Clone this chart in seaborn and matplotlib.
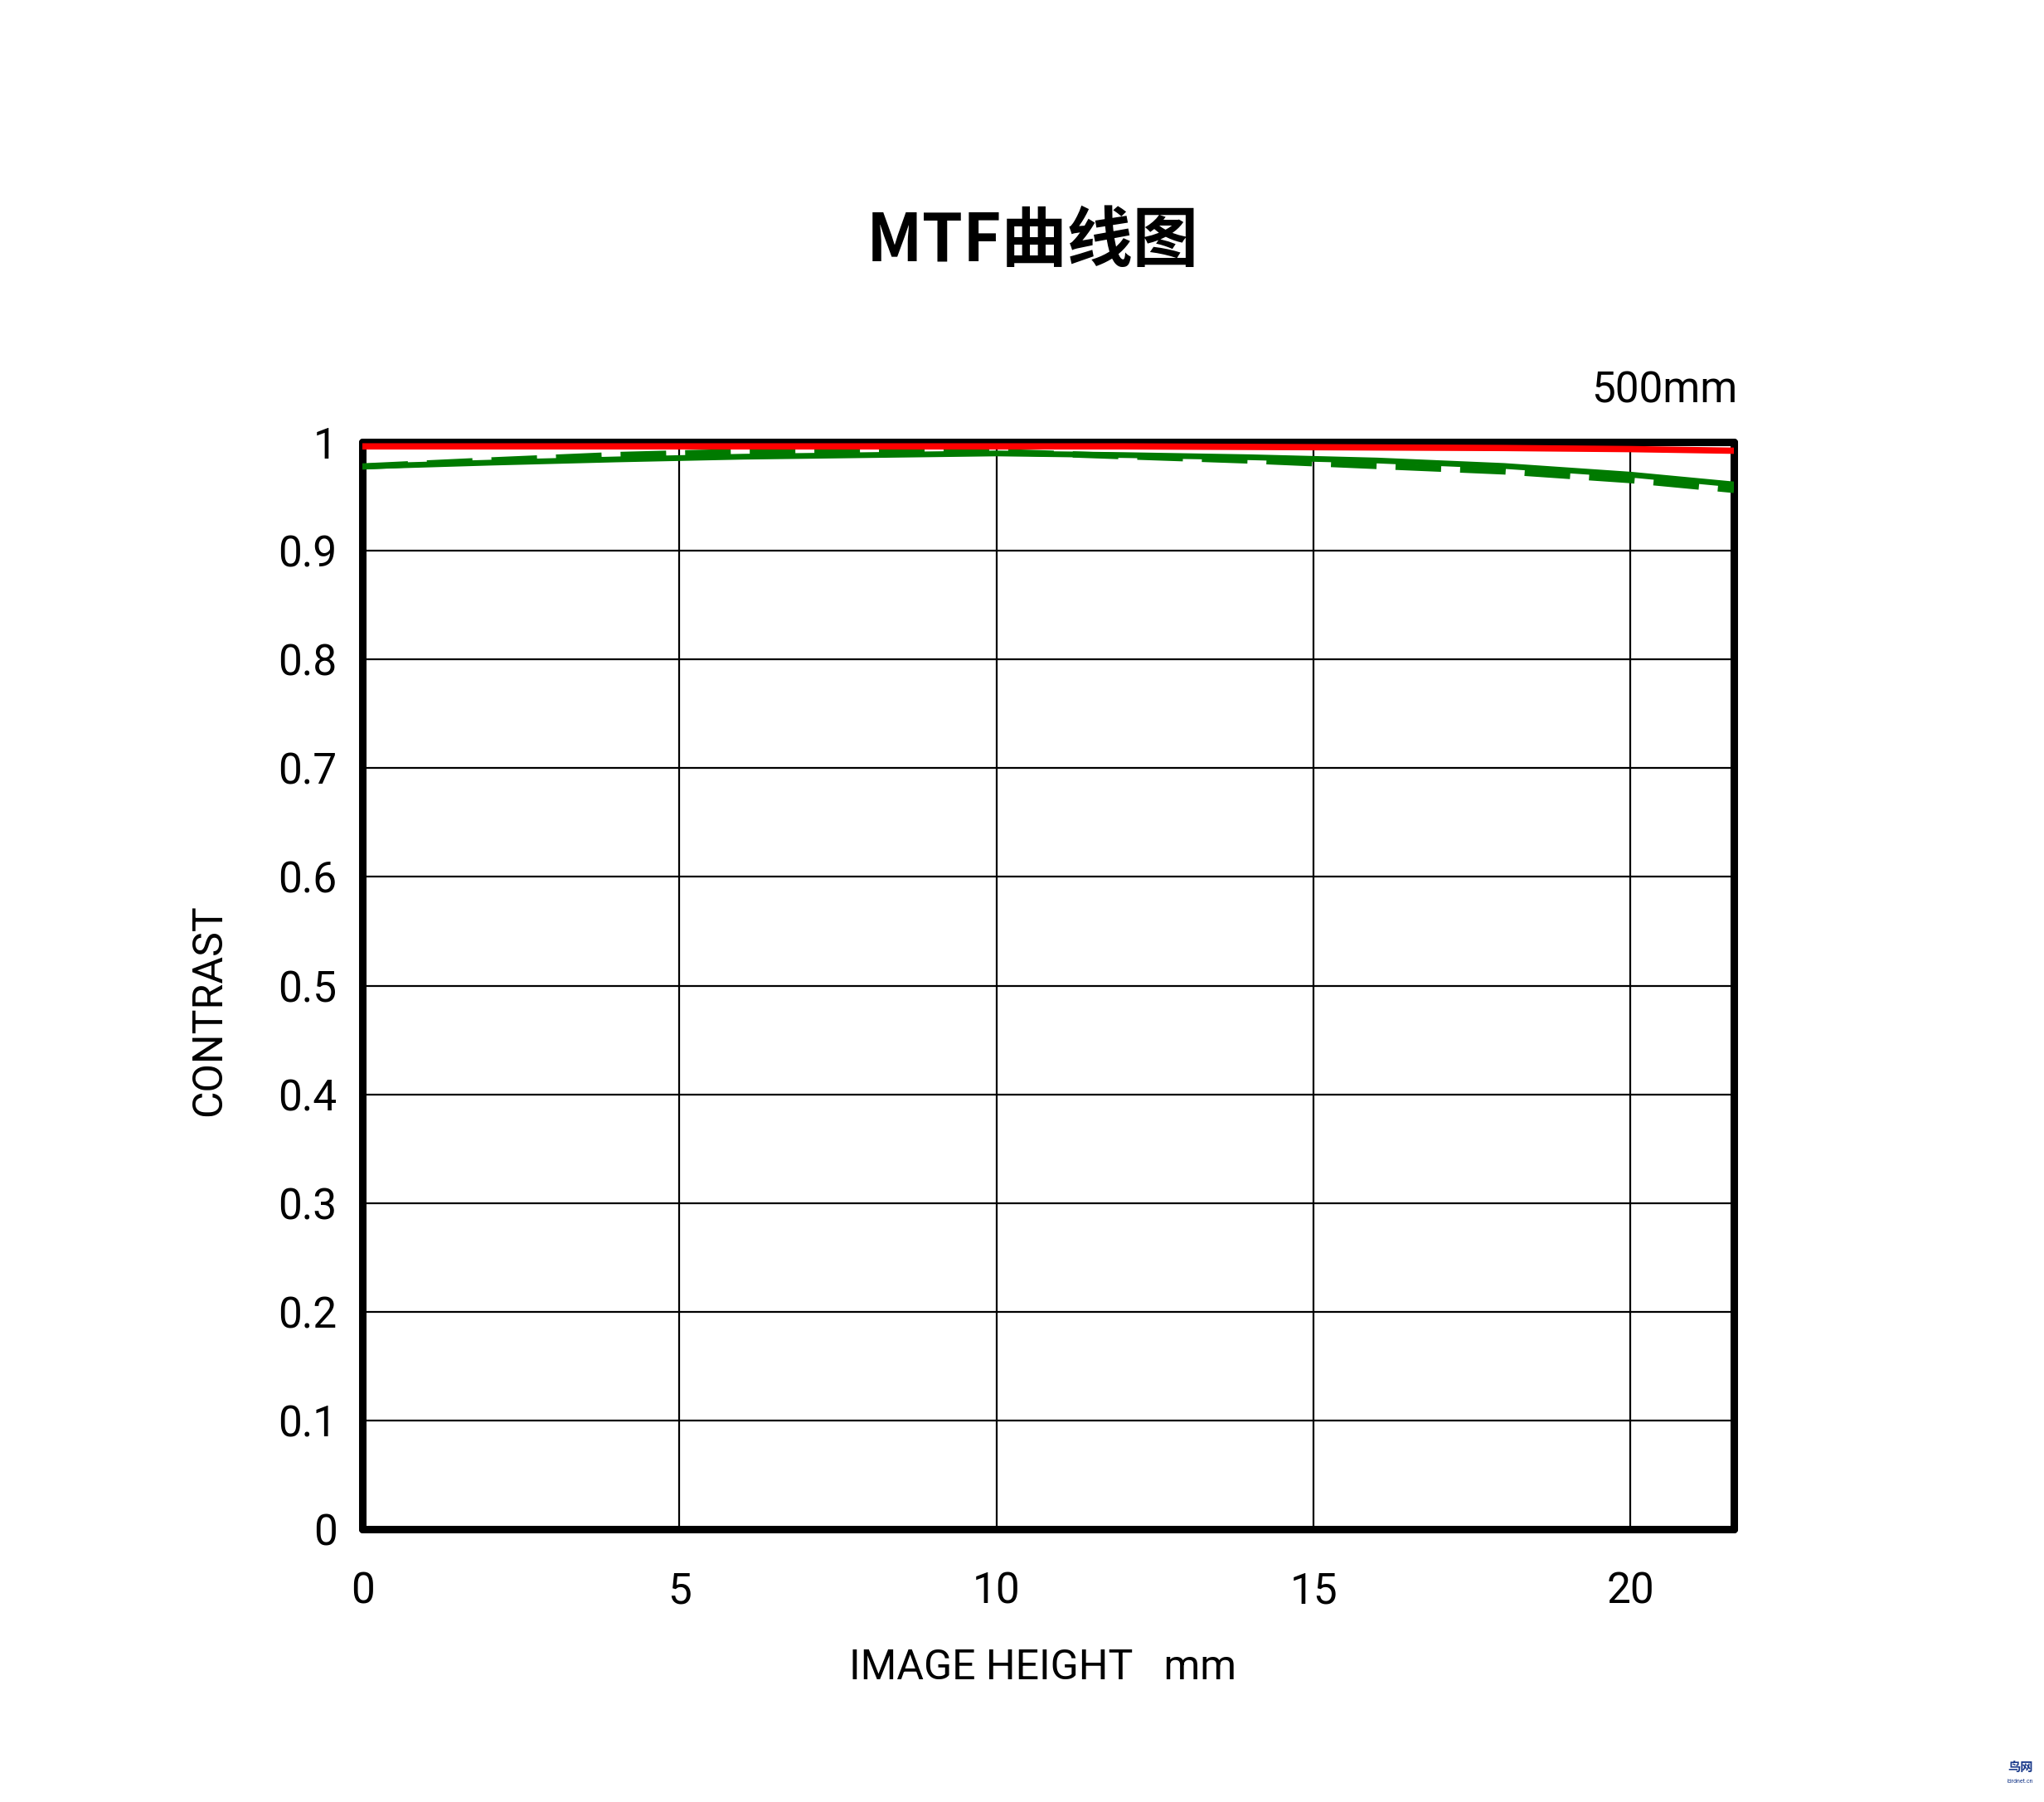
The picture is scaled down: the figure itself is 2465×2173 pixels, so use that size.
import matplotlib
matplotlib.use("Agg")
import matplotlib.pyplot as plt
import seaborn as sns
import pandas as pd

# ---- data ----
image_height = [0, 2, 4, 6, 8, 10, 12, 14, 16, 18, 20, 21.63]
red_solid    = [0.996, 0.996, 0.996, 0.996, 0.996, 0.996, 0.996, 0.9955, 0.995, 0.9945, 0.9935, 0.992]
green_solid  = [0.9775, 0.981, 0.984, 0.9865, 0.988, 0.9895, 0.988, 0.986, 0.983, 0.978, 0.970, 0.961]
green_dashed = [0.9775, 0.983, 0.988, 0.991, 0.992, 0.991, 0.987, 0.983, 0.978, 0.973, 0.965, 0.956]

x_ticks = [0, 5, 10, 15, 20]
y_ticks = [0, 0.1, 0.2, 0.3, 0.4, 0.5, 0.6, 0.7, 0.8, 0.9, 1]
y_tick_labels = ["0", "0.1", "0.2", "0.3", "0.4", "0.5", "0.6", "0.7", "0.8", "0.9", "1"]

title = "MTF曲线图"
focal = "500mm"
x_label = "IMAGE HEIGHT   mm"
y_label = "CONTRAST"

sns.set_theme(style="white")
plt.rcParams['font.family'] = ['Roboto', 'DejaVu Sans']

fig = plt.figure(figsize=(24.65, 21.73), dpi=100)
ax = fig.add_axes([0.1773, 0.1514, 0.6710, 0.6033])

df_r = pd.DataFrame({"x": image_height, "y": red_solid})
df_gs = pd.DataFrame({"x": image_height, "y": green_solid})
df_gd = pd.DataFrame({"x": image_height, "y": green_dashed})

sns.lineplot(data=df_gs, x="x", y="y", ax=ax, color="#007A00", lw=5.0, zorder=3)
sns.lineplot(data=df_gd, x="x", y="y", ax=ax, color="#007A00", lw=5.5, zorder=3,
             linestyle=(0, (7.2, 3.0)))
sns.lineplot(data=df_r, x="x", y="y", ax=ax, color="#FF0000", lw=5.5, zorder=4)

ax.set_xlim(0, 21.63)
ax.set_ylim(0, 1)
ax.set_xticks(x_ticks)
ax.set_xticklabels([str(t) for t in x_ticks])
ax.set_yticks(y_ticks)
ax.set_yticklabels(y_tick_labels)
ax.tick_params(axis='both', length=0, labelsize=37, colors='black')
ax.tick_params(axis='y', pad=22)
ax.tick_params(axis='x', pad=36)

ax.grid(True, color='black', lw=1.6)
ax.set_axisbelow(True)
for s in ax.spines.values():
    s.set_visible(True)
    s.set_color('black')
    s.set_linewidth(6.5)
    s.set_zorder(2.5)
    s.set_capstyle('round')

ax.set_xlabel(x_label, fontsize=36, color='black')
ax.set_ylabel(y_label, fontsize=36, color='black')
ax.xaxis.set_label_coords(0.496, -0.127)
ax.yaxis.set_label_coords(-0.112, 0.4775)
ax.xaxis.label.set_va('center')
ax.yaxis.label.set_va('center')

fig.text(0.850, 0.783, focal, ha='right', va='center', fontsize=37, color='black')
fig.text(0.505, 0.866, title, ha='center', va='center', fontsize=57, fontweight='bold',
         color='black', family=['Noto Sans CJK SC', 'DejaVu Sans'])

# watermark
fig.text(0.9885, 0.0195, "鸟网", ha='center', va='center', fontsize=11, color='#1a3a8a',
         fontweight='bold', family=['Noto Sans CJK SC', 'DejaVu Sans'])
fig.text(0.9885, 0.0115, "birdnet.cn", ha='center', va='center', fontsize=5, color='#1a3a8a')

fig.savefig("out.png", dpi=100, facecolor='white')
